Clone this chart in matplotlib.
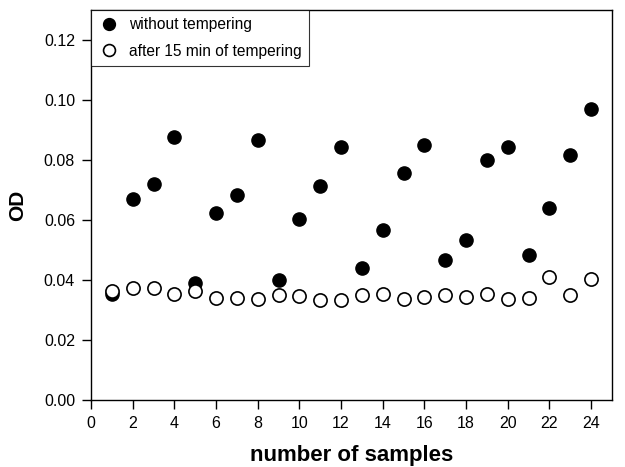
import matplotlib
matplotlib.use('Agg')
import matplotlib.pyplot as plt

plt.rcParams['font.family'] = ['Liberation Sans', 'DejaVu Sans']

# sample numbers and optical density readings
samples = list(range(1, 25))
od_without = [0.0355, 0.067, 0.072, 0.0877, 0.039, 0.0625, 0.0683, 0.0867,
              0.040, 0.0605, 0.0713, 0.0845, 0.044, 0.0567, 0.0757, 0.085,
              0.0467, 0.0533, 0.080, 0.0845, 0.0483, 0.064, 0.0817, 0.097]
od_after = [0.0365, 0.0372, 0.0372, 0.0352, 0.0362, 0.034, 0.034, 0.0337,
            0.035, 0.0348, 0.0332, 0.0333, 0.035, 0.0355, 0.0337, 0.0342,
            0.035, 0.0345, 0.0353, 0.0338, 0.034, 0.041, 0.035, 0.0405]
xticks = list(range(0, 25, 2))
yticks = [0.00, 0.02, 0.04, 0.06, 0.08, 0.10, 0.12]

fig = plt.figure(figsize=(6.25, 4.67), dpi=100)
ax = fig.add_axes([0.1456, 0.1435, 0.8334, 0.835])

ax.plot(samples, od_without, 'o', color='black', markersize=9.5,
        label='without tempering')
ax.plot(samples, od_after, 'o', markerfacecolor='white', markeredgecolor='black',
        markeredgewidth=1.2, markersize=9.5, label='after 15 min of tempering')

ax.set_xlim(0, 25)
ax.set_ylim(0, 0.13)
ax.set_xticks(xticks)
ax.set_yticks(yticks)
ax.set_yticklabels(['%.2f' % v for v in yticks])
ax.tick_params(direction='out', length=6.5, width=1, labelsize=11.5, pad=5)
for s in ax.spines.values():
    s.set_linewidth(1)

ax.set_xlabel('number of samples', fontsize=16, fontweight='bold', labelpad=10)
ax.set_ylabel('OD', fontsize=15, fontweight='bold', labelpad=12)

leg = ax.legend(loc='upper left', fontsize=11.2, frameon=True, fancybox=False,
                borderaxespad=0, handletextpad=0.6, handlelength=1.4,
                borderpad=0.45, labelspacing=0.75, markerscale=0.9)
leg.get_frame().set_edgecolor('black')
leg.get_frame().set_linewidth(0.8)

fig.savefig('out.png', dpi=100)
